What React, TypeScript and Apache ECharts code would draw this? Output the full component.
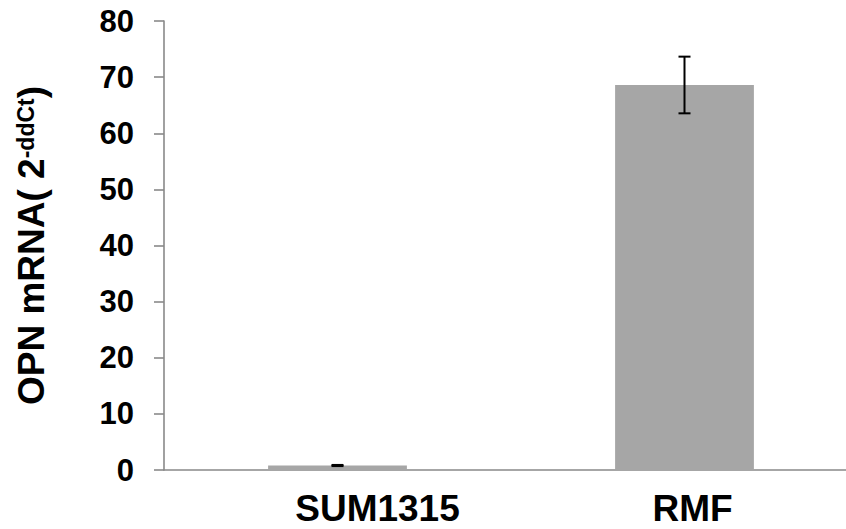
import React, { useEffect, useRef } from "react";
import * as echarts from "echarts";

const categories = ["SUM1315", "RMF"];
const values = [0.8, 68.6];
const errors = [0.1, 5.05];
const labelShift = [80, 16];

export default function App() {
  const ref = useRef<HTMLDivElement>(null);
  useEffect(() => {
    const chart = echarts.init(ref.current!, null, { renderer: "svg" });
    const errData = values.map((v, i) => [i, v - errors[i], v + errors[i]]);
    chart.setOption({
      animation: false,
      grid: { left: 154, top: 21, bottom: 59, right: 0, containLabel: false },
      xAxis: {
        type: "category",
        data: categories,
        axisLine: { lineStyle: { color: "#898989", width: 1.6 } },
        axisTick: { show: false },
        axisLabel: {
          margin: 20,
          formatter: (v: string, i: number) => `{c${i}|${v}}`,
          rich: {
            c0: { fontFamily: "Liberation Sans", fontWeight: "bold", fontSize: 37, color: "#000", padding: [0, 0, 0, labelShift[0]] },
            c1: { fontFamily: "Liberation Sans", fontWeight: "bold", fontSize: 37, color: "#000", padding: [0, 0, 0, labelShift[1]] },
          },
        },
      },
      yAxis: {
        type: "value",
        min: 0,
        max: 80,
        interval: 10,
        splitLine: { show: false },
        axisLine: { show: true, lineStyle: { color: "#898989", width: 1.6 } },
        axisTick: { show: true, length: 10, lineStyle: { color: "#898989", width: 1.6 } },
        axisLabel: {
          margin: 30,
          fontFamily: "Liberation Sans",
          fontWeight: "bold",
          fontSize: 31,
          color: "#000",
        },
        name: "{a|OPN mRNA( 2}{b|-ddCt}{a|)}",
        nameLocation: "middle",
        nameGap: 114,
        nameRotate: 90,
        nameTextStyle: {
          rich: {
            a: { fontFamily: "Liberation Sans", fontWeight: "bold", fontSize: 37, color: "#000", lineHeight: 42, verticalAlign: "bottom" },
            b: { fontFamily: "Liberation Sans", fontWeight: "bold", fontSize: 23, color: "#000", lineHeight: 30, verticalAlign: "top", padding: [6, 0, 0, 0] },
          },
        },
      },
      series: [
        {
          type: "bar",
          data: values,
          barCategoryGap: "60%",
          itemStyle: { color: "#A6A6A6" },
        },
        {
          type: "custom",
          data: errData,
          z: 10,
          renderItem: (params: any, api: any) => {
            const x = api.value(0);
            const lo = api.coord([x, api.value(1)]);
            const hi = api.coord([x, api.value(2)]);
            const hw = 6;
            const style = { stroke: "#000", lineWidth: 2 };
            return {
              type: "group",
              children: [
                { type: "line", shape: { x1: hi[0], y1: hi[1], x2: lo[0], y2: lo[1] }, style },
                { type: "line", shape: { x1: hi[0] - hw, y1: hi[1], x2: hi[0] + hw, y2: hi[1] }, style },
                { type: "line", shape: { x1: lo[0] - hw, y1: lo[1], x2: lo[0] + hw, y2: lo[1] }, style },
              ],
            };
          },
        },
      ],
    });
    return () => chart.dispose();
  }, []);
  return (
    <div style={{ position: "fixed", left: 0, top: 0, width: 846, height: 529, overflow: "hidden", background: "#fff" }}>
      <div ref={ref} style={{ width: 858, height: 529 }} />
    </div>
  );
}
